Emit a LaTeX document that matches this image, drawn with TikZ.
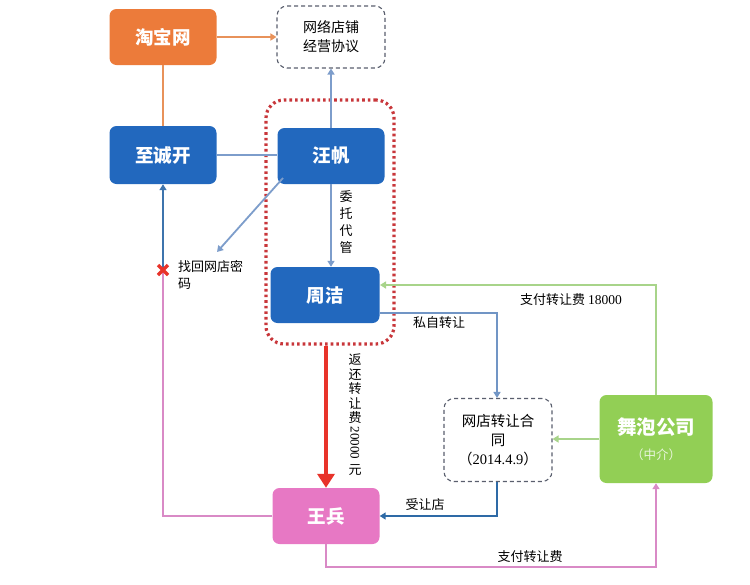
\documentclass[tikz,border=0pt]{standalone}
\usepackage{fontspec}
\setmainfont{Noto Sans CJK SC}
\newfontfamily\numfont{Liberation Serif}
\usetikzlibrary{arrows.meta,calc}
\definecolor{cOrange}{HTML}{EC7B3A}
\definecolor{cOrangeL}{HTML}{E8925A}
\definecolor{cBlue}{HTML}{2268BE}
\definecolor{cSteel}{HTML}{7D9DCB}
\definecolor{cDark}{HTML}{2E6AA6}
\definecolor{cGreen}{HTML}{92CF55}
\definecolor{cGreenL}{HTML}{A8D48A}
\definecolor{cPink}{HTML}{E778C4}
\definecolor{cPinkL}{HTML}{D98AC6}
\definecolor{cRed}{HTML}{E8332A}
\definecolor{cDotRed}{HTML}{C8363A}
\definecolor{cGray}{HTML}{5A5F6E}
\begin{document}
\begin{tikzpicture}[x=1pt,y=-1pt,
  box/.style={rounded corners=7pt,minimum width=107pt,minimum height=56pt,inner sep=0pt,
    text=white,font=\fontsize{18.5}{21}\selectfont\bfseries,align=center},
  dbox/.style={rounded corners=10pt,draw=cGray,dashed,dash pattern=on 4pt off 3pt,line width=1.1pt,
    minimum width=108pt,inner sep=0pt,align=center,font=\fontsize{14}{19}\selectfont},
  lbl/.style={font=\fontsize{13}{17}\selectfont,inner sep=1pt},
  vlbl/.style={font=\fontsize{13}{14.5}\selectfont,inner sep=1pt,align=center},
  conn/.style={line width=1.8pt},
  tip/.style={-{Triangle[length=6pt,width=7pt]}}
]
\useasboundingbox (0,0) rectangle (750,584);
\fill[white] (0,0) rectangle (750,584);

% nodes
\node[box,fill=cOrange] (tb) at (163,37) {淘宝网};
\node[dbox,minimum height=62pt] (xy) at (331,37) {网络店铺\\经营协议};
\node[box,fill=cBlue,minimum height=58pt] (zc) at (163,155) {至诚开};
\node[box,fill=cBlue] (wf) at (331,156) {汪帆};
\node[box,fill=cBlue,minimum width=109pt] (zj) at (325,295) {周洁};
\node[dbox,minimum height=83pt,font=\fontsize{14.5}{19}\selectfont] (ht) at (498,440) {网店转让合\\同\\（{\numfont 2014.4.9}）};
\node[box,fill=cGreen,minimum width=113pt,minimum height=88pt,font=\fontsize{19.5}{22}\selectfont\bfseries] (wp) at (656,439) {舞泡公司\\[3pt]{\fontsize{12.5}{14}\selectfont\mdseries\color{white!80!cGreen}（中介）}};
\node[box,fill=cPink] (wb) at (326,516) {王兵};

% dotted red frame
\node[draw=cDotRed,line width=3.2pt,dash pattern=on 2.6pt off 3pt,rounded corners=18pt,
  minimum width=128pt,minimum height=244pt,inner sep=0pt] (frame) at (330,222) {};

% connectors
\draw[conn,cOrangeL,tip] (tb.east) -- (xy.west);
\draw[conn,cOrangeL] (tb.south) -- (zc.north);
\draw[conn,cSteel] (zc.east) -- (zc.east -| wf.west);
\draw[conn,cSteel,tip] (wf.north) -- (xy.south);
\coordinate (pw) at (217,252);
\draw[conn,cSteel,tip] (283,178) -- (pw);
\node[lbl,anchor=north west,align=left] (pwl) at (177,259) {找回网店密\\码};
\draw[conn,cSteel,tip] (wf.south) -- (wf.south |- zj.north);
\node[vlbl,font=\fontsize{13}{17}\selectfont] (wt) at (346,222) {委\\托\\代\\管};

% wangbing -> zhichengkai (broken)
\coordinate (xx) at (163,270);
\draw[conn,cPinkL] (wb.west) -- (163,516) -- (xx);
\draw[conn,cDark!80!cSteel,tip] (xx) -- (zc.south);
\draw[cRed,line width=3.2pt] ($(xx)+(-5,-5)$) -- ($(xx)+(5,5)$) ($(xx)+(-5,5)$) -- ($(xx)+(5,-5)$);

% zhoujie -> wangbing (red thick)
\draw[cRed,line width=4.5pt,-{Triangle[length=14pt,width=17pt]}] (wb.north |- frame.south) -- (wb.north);
\node[vlbl] (fh1) at (355,389) {返\\还\\转\\让\\费};
\node[inner sep=0pt,rotate=-90,font=\numfont\fontsize{13}{14}\selectfont] (fh2) at (355,443) {20000};
\node[vlbl] (fh3) at (355,470) {元};

% zhoujie -> contract
\draw[conn,cSteel!85!cDark,tip] (380,313) -- (497,313) -- (ht.north -| 497,0);
\node[lbl] (sz) at (439,323) {私自转让};

% wupao -> zhoujie
\draw[conn,cGreenL,tip] (wp.north -| 656,0) -- (656,285) -- (380,285);
\node[lbl] (zf1) at (571,300) {支付转让费 {\numfont\fontsize{13.5}{14}\selectfont 18000}};

% wupao -> contract
\draw[conn,cGreenL,tip] (wp.west) -- (wp.west -| ht.east);

% contract -> wangbing
\draw[conn,cDark,tip] (ht.south -| 497,0) -- (497,516) -- (wb.east);
\node[lbl] (sr) at (425,505) {受让店};

% wangbing -> wupao
\draw[conn,cPinkL,tip] (wb.south) -- (326,567) -- (656,567) -- (wp.south -| 656,0);
\node[lbl] (zf2) at (530,557) {支付转让费};
\end{tikzpicture}
\end{document}
